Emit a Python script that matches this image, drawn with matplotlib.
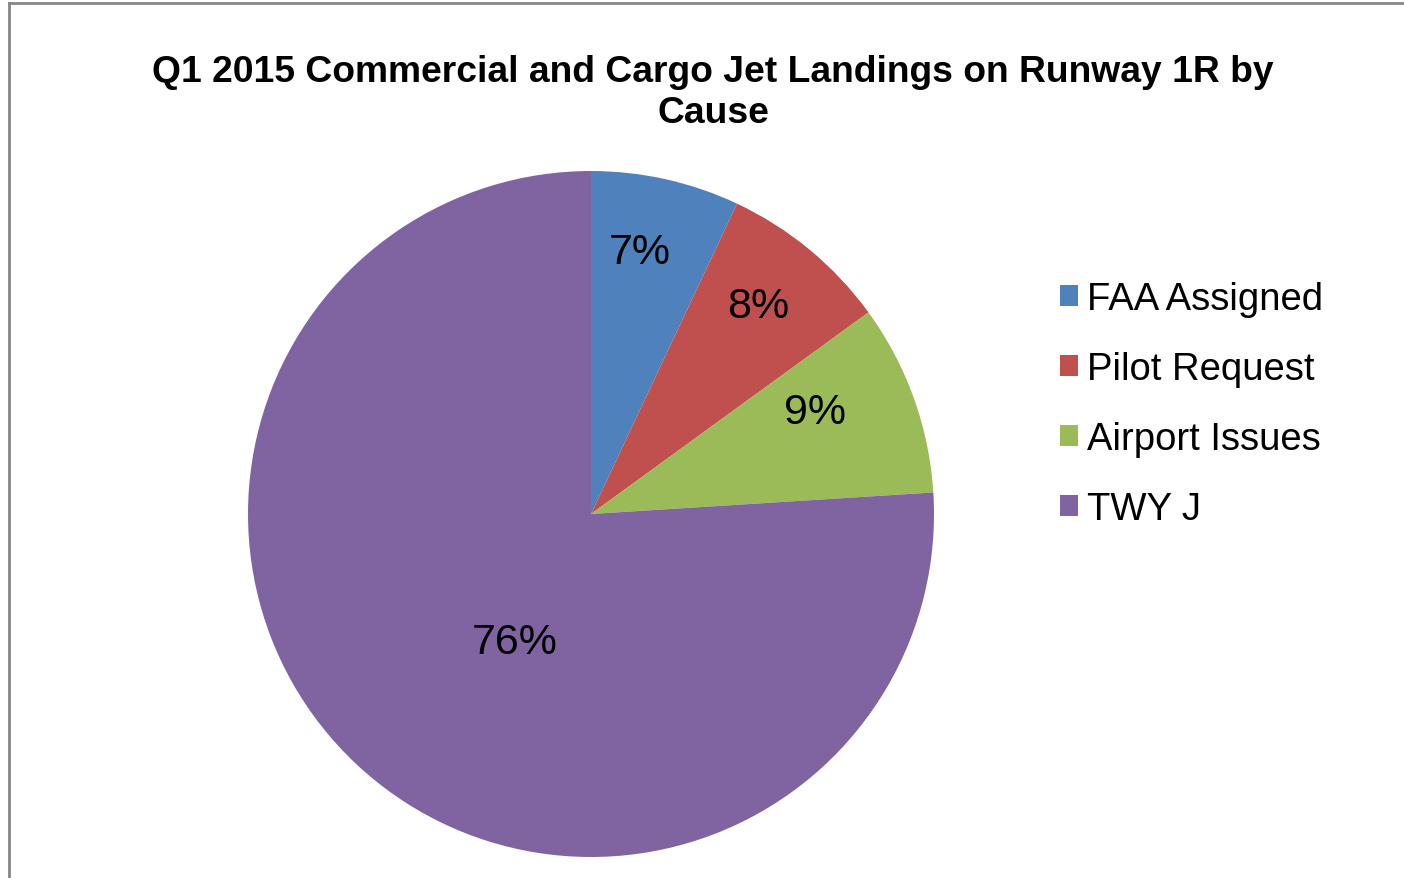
import numpy as np
import matplotlib.pyplot as plt
from matplotlib.patches import Rectangle

plt.rcParams['font.family'] = ['Liberation Sans', 'DejaVu Sans']

categories = ["FAA Assigned", "Pilot Request", "Airport Issues", "TWY J"]
shares = [7, 8, 9, 76]
colors = ["#4F81BD", "#C0504D", "#9BBB59", "#8064A2"]
title = "Q1 2015 Commercial and Cargo Jet Landings on Runway 1R by\nCause"

fig = plt.figure(figsize=(14.04, 8.79), dpi=100)

# gray chart frame (only top and left edges visible in the crop)
fig.add_artist(plt.Line2D([8.5/1404, 8.5/1404], [0, 1 - 4/879], transform=fig.transFigure,
                          color="#868686", lw=2))
fig.add_artist(plt.Line2D([8.5/1404, 1], [1 - 4/879, 1 - 4/879], transform=fig.transFigure,
                          color="#868686", lw=2))

ax = fig.add_axes([248/1404, 21/879, 686/1404, 686/879])
wedges, _ = ax.pie(shares, colors=colors, startangle=90, counterclock=False,
                   radius=1, wedgeprops=dict(linewidth=0))
ax.set_xlim(-1, 1)
ax.set_ylim(-1, 1)
ax.set_aspect('equal')
ax.axis('off')

# label placement (Excel best fit): distance from centre and angle shift per slice
label_r = [0.78, 0.78, 0.72, 0.43]
label_shift = [2, 1, 5, 12]
for w, s, r, d in zip(wedges, shares, label_r, label_shift):
    ang = np.deg2rad((w.theta1 + w.theta2) / 2 + d)
    ax.text(r * np.cos(ang), r * np.sin(ang) - 0.004, "%d%%" % s, ha='center', va='center',
            fontsize=31, color='black')

fig.text(713/1404, 1 - 93/879, title, ha='center', va='center', fontsize=26.8,
         fontweight='bold', linespacing=1.24)

handles = [Rectangle((0, 0), 1, 1, facecolor=c) for c in colors]
fig.legend(handles, categories, loc='upper left', bbox_to_anchor=(1060/1404, 1 - 282/879),
           frameon=False, fontsize=27.5, handlelength=0.48, handleheight=0.48,
           handletextpad=0.22, labelspacing=0.89, borderpad=0, borderaxespad=0)

fig.savefig("out.png", dpi=100)
